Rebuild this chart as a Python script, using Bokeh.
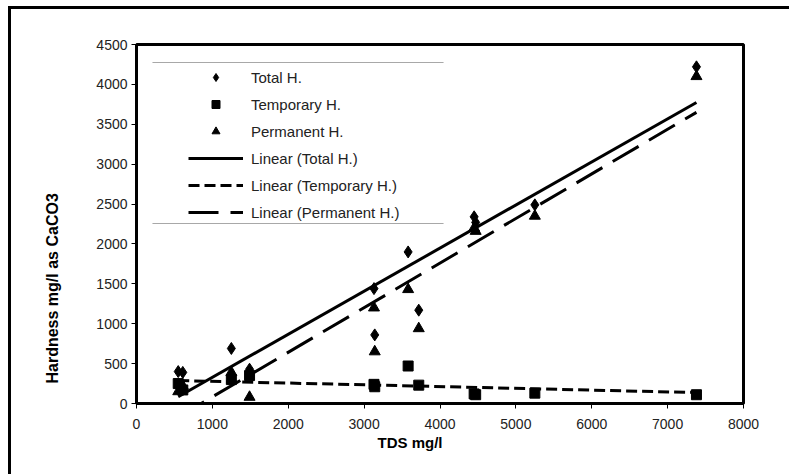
import numpy as np
from bokeh.plotting import figure
from bokeh.models import Range1d, FixedTicker, Legend, LegendItem, BoxAnnotation, Title
from bokeh.embed import file_html
from bokeh.resources import INLINE

# ---- data ----
tds = [550, 610, 1250, 1490, 3130, 3140, 3580, 3720, 4450, 4470, 5250, 7380]
total_h = [400, 390, 690, 430, 1440, 860, 1900, 1170, 2340, 2270, 2490, 4220]
temp_h = [250, 170, 300, 350, 240, 210, 470, 230, 120, 110, 130, 110]
perm_h = [150, 220, 390, 80, 1200, 650, 1430, 940, 2200, 2160, 2350, 4100]

# linear trend lines (slope, intercept)
total_fit = [0.540, -212.0]
temp_fit = [-0.022, 300.0]
perm_fit = [0.559, -476.0]

x_ticks = [0, 1000, 2000, 3000, 4000, 5000, 6000, 7000, 8000]
y_ticks = [0, 500, 1000, 1500, 2000, 2500, 3000, 3500, 4000, 4500]

FONT = "Liberation Sans"

p = figure(frame_width=607, frame_height=359,
           min_border_left=136, min_border_right=57,
           min_border_top=44, min_border_bottom=82,
           x_range=Range1d(0, 8000), y_range=Range1d(0, 4500),
           output_backend="svg", toolbar_location=None)
p.background_fill_color = "white"
p.border_fill_color = None
p.outline_line_color = "black"
p.outline_line_width = 3
p.xgrid.visible = False
p.ygrid.visible = False
# outer chart frame: only its left and top edges fall inside the window
p.styles = {"background-color": "white",
            "box-shadow": "inset 8px 6px 0px 0px white, inset 11px 9px 0px 0px black"}

for ax in (p.xaxis[0], p.yaxis[0]):
    ax.axis_line_color = "black"
    ax.axis_line_width = 3
    ax.major_tick_out = 5
    ax.major_tick_in = 0
    ax.major_tick_line_color = "black"
    ax.minor_tick_line_color = None
    ax.major_label_text_font = FONT
    ax.major_label_text_font_size = "14px"
    ax.major_label_text_color = "#222222"

p.xaxis[0].ticker = FixedTicker(ticks=x_ticks)
p.yaxis[0].ticker = FixedTicker(ticks=y_ticks)
p.xaxis[0].major_label_standoff = 10
p.yaxis[0].major_label_standoff = 4

# axis titles, positioned as in the reference (off-centre)
p.add_layout(Title(text="Hardness mg/l as  CaCO3", align="left", offset=20, standoff=65,
                   text_font=FONT, text_font_size="16px", text_font_style="bold",
                   text_color="black"), "left")
p.add_layout(Title(text="TDS mg/l", align="left", offset=241, standoff=1,
                   text_font=FONT, text_font_size="15px", text_font_style="bold",
                   text_color="black"), "below")

fit_x = np.array([min(tds), max(tds)], dtype=float)

r_total = p.scatter(tds, total_h, marker="diamond", size=12, color="black")
r_temp = p.scatter(tds, temp_h, marker="square", size=10, color="black")
r_perm = p.scatter(tds, perm_h, marker="triangle", size=11, color="black")

r_ltot = p.line(fit_x, total_fit[0] * fit_x + total_fit[1], line_color="black", line_width=3)
r_ltemp = p.line(fit_x, temp_fit[0] * fit_x + temp_fit[1], line_color="black", line_width=3,
                 line_dash="11 5")
r_lperm = p.line(fit_x, perm_fit[0] * fit_x + perm_fit[1], line_color="black", line_width=3,
                 line_dash="30 12")

legend = Legend(items=[
    LegendItem(label="Total H.", renderers=[r_total]),
    LegendItem(label="Temporary H.", renderers=[r_temp]),
    LegendItem(label="Permanent H.", renderers=[r_perm]),
    LegendItem(label="Linear (Total H.)", renderers=[r_ltot]),
    LegendItem(label="Linear (Temporary H.)", renderers=[r_ltemp]),
    LegendItem(label="Linear (Permanent H.)", renderers=[r_lperm]),
], location=(52, 181))
legend.border_line_alpha = 0
legend.background_fill_alpha = 0
legend.padding = 0
legend.margin = 0
legend.spacing = 7
legend.glyph_width = 55
legend.glyph_height = 20
legend.label_height = 20
legend.label_standoff = 8
legend.label_text_font = FONT
legend.label_text_font_size = "15px"
legend.label_text_color = "#222222"
p.add_layout(legend, "center")

# legend separator lines (top and bottom of the legend box)
for yy in (62, 223):
    p.add_layout(BoxAnnotation(left=152, right=443, top=yy, bottom=yy,
                               left_units="canvas", right_units="canvas",
                               top_units="canvas", bottom_units="canvas",
                               fill_alpha=0, line_color="#555555", line_width=1,
                               level="overlay"))

open("out.html", "w").write(file_html(p, INLINE))
